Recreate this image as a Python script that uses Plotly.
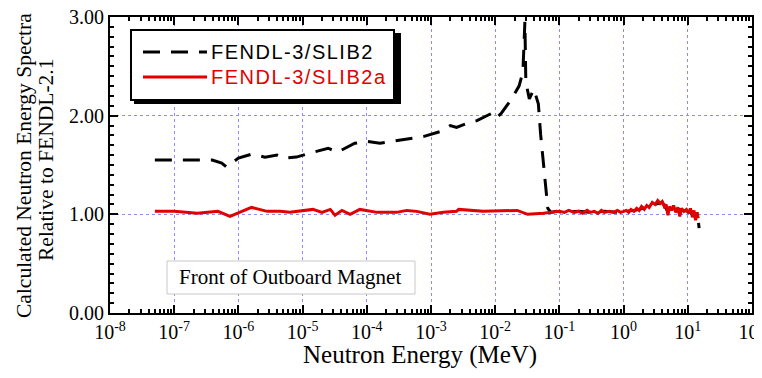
import plotly.graph_objects as go

# ---------------- data ----------------
slib2_energy = [5e-8, 1e-7, 2e-7, 3.9e-7, 5.5e-7, 6.5e-7, 1e-6, 1.6e-6, 2.6e-6, 4e-6,
                5e-6, 8e-6, 1.3e-5, 2.5e-5, 3.5e-5, 6.5e-5, 1e-4, 1.6e-4, 2.5e-4, 7.8e-4,
                1.4e-3, 2.0e-3, 2.5e-3, 3.6e-3, 5.2e-3, 8.6e-3, 1.0e-2, 1.23e-2, 1.8e-2, 2.35e-2,
                2.7e-2, 2.9e-2, 3.0e-2, 3.4e-2, 4.0e-2, 4.7e-2, 5.1e-2, 5.8e-2, 6.6e-2, 7.4e-2,
                0.09, 0.12, 0.2, 0.3, 0.5, 0.8, 1.0, 1.5, 2.0, 3.0,
                4.0, 5.0, 7.0, 10.0, 12.0, 13.5, 14.5, 15.0]
slib2_ratio = [1.55, 1.55, 1.55, 1.55, 1.52, 1.48, 1.57, 1.61, 1.58, 1.60,
               1.57, 1.58, 1.62, 1.67, 1.63, 1.72, 1.74, 1.72, 1.74, 1.79,
               1.84, 1.90, 1.88, 1.92, 1.95, 2.02, 1.97, 2.02, 2.17, 2.30,
               2.44, 2.95, 2.34, 2.17, 2.27, 2.12, 1.81, 1.47, 1.06, 1.02,
               1.03, 1.02, 1.03, 1.02, 1.03, 1.02, 1.03, 1.04, 1.06, 1.10,
               1.12, 1.02, 1.05, 1.03, 1.00, 0.98, 0.95, 0.86]

slib2a_energy = [5e-8, 1e-7, 2.3e-7, 4.8e-7, 7.4e-7, 1.6e-6, 2.8e-6, 4.5e-6, 6.3e-6, 9.1e-6,
                 1.45e-5, 2.0e-5, 2.7e-5, 3.2e-5, 4.1e-5, 5.5e-5, 7.8e-5, 1.45e-4, 2.9e-4, 4.2e-4,
                 6.0e-4, 9.6e-4, 1.55e-3, 2.5e-3, 2.7e-3, 6.5e-3, 2.2e-2, 3.2e-2, 5.6e-2, 0.1,
                 0.12, 0.14, 0.17, 0.2, 0.23, 0.27, 0.3, 0.35, 0.4, 0.45,
                 0.5, 0.6, 0.7, 0.8, 0.9, 1.0, 1.1, 1.2, 1.3, 1.45,
                 1.6, 1.75, 1.9, 2.1, 2.3, 2.5, 2.8, 3.1, 3.4, 3.7,
                 4.0, 4.3, 4.6, 4.9, 5.2, 5.6, 6.0, 6.5, 7.0, 7.5,
                 8.0, 8.7, 9.5, 10.3, 11.0, 11.8, 12.5, 13.2, 14.0, 14.5]
slib2a_ratio = [1.03, 1.03, 1.01, 1.03, 0.98, 1.07, 1.03, 1.03, 1.02, 1.03,
                1.05, 1.02, 1.05, 0.99, 1.04, 1.00, 1.05, 1.02, 1.02, 1.04,
                1.03, 1.00, 1.02, 1.03, 1.05, 1.03, 1.04, 1.00, 1.01, 1.03,
                1.02, 1.04, 1.02, 1.03, 1.01, 1.04, 1.02, 1.03, 1.01, 1.04,
                1.02, 1.03, 1.02, 1.04, 1.02, 1.03, 1.04, 1.02, 1.05, 1.03,
                1.06, 1.04, 1.08, 1.05, 1.09, 1.07, 1.12, 1.10, 1.14, 1.11,
                1.13, 1.08, 1.10, 0.99, 1.08, 1.04, 1.09, 1.02, 1.07, 0.98,
                1.06, 1.03, 1.05, 1.01, 1.06, 0.97, 1.04, 0.94, 1.02, 0.96]

series_names = ["FENDL-3/SLIB2", "FENDL-3/SLIB2a"]
x_tick_vals = [1e-8, 1e-7, 1e-6, 1e-5, 1e-4, 1e-3, 1e-2, 1e-1, 1e0, 1e1, 1e2]
x_tick_text = ["10<sup>-8</sup>", "10<sup>-7</sup>", "10<sup>-6</sup>", "10<sup>-5</sup>",
               "10<sup>-4</sup>", "10<sup>-3</sup>", "10<sup>-2</sup>", "10<sup>-1</sup>",
               "10<sup>0</sup>", "10<sup>1</sup>", "10<sup>2</sup>"]
y_tick_vals = [0, 1, 2, 3]
y_tick_text = ["0.00", "1.00", "2.00", "3.00"]
x_title = "Neutron Energy (MeV)"
y_title_lines = ["Calculated Neutron Energy Spectra", "Relative to FENDL-2.1"]
note_text = "Front of Outboard Magnet"

# ---------------- layout helpers ----------------
# the page body has an 8px margin, so the figure is made 8px smaller and
# everything is placed in page pixels minus that offset
OFF = 8
W, H = 762 - OFF, 378 - OFF
L, R, T, B = 110, 752, 17, 313   # plot area in page pixels


def px(x):
    return (x - L) / (R - L)


def py(y):
    return (B - y) / (B - T)


BLACK = "#000000"
RED = "#e00000"
GRID = "#8c8cff"
SERIF = "Liberation Serif"
SANS = "Liberation Sans"
DASH = "17px,11px"

fig = go.Figure()
fig.add_trace(go.Scatter(x=slib2_energy, y=slib2_ratio, mode="lines", name=series_names[0],
                         line=dict(color=BLACK, width=3, dash=DASH), showlegend=False))
fig.add_trace(go.Scatter(x=slib2a_energy, y=slib2a_ratio, mode="lines", name=series_names[1],
                         line=dict(color=RED, width=3), showlegend=False))

minor_x = [m * 10.0 ** e for e in range(-8, 2) for m in range(2, 10)]

fig.update_xaxes(type="log", range=[-8, 2], automargin=False, ticklabeloverflow="allow",
                 showline=True, linecolor=BLACK, linewidth=2,
                 mirror="allticks", ticks="inside", ticklen=8, tickwidth=1.5, tickcolor=BLACK,
                 tickvals=x_tick_vals, ticktext=x_tick_text,
                 tickfont=dict(family=SERIF, size=20, color=BLACK),
                 showgrid=True, gridcolor=GRID, gridwidth=1, griddash="dot", zeroline=False,
                 minor=dict(tickvals=minor_x, ticks="inside", ticklen=4, tickwidth=1.5,
                            tickcolor=BLACK, showgrid=False))
fig.update_yaxes(range=[0, 3], automargin=False, ticklabeloverflow="allow",
                 showline=True, linecolor=BLACK, linewidth=2,
                 mirror="allticks", ticks="inside", ticklen=8, tickwidth=1.5, tickcolor=BLACK,
                 tickvals=y_tick_vals, ticktext=y_tick_text,
                 tickfont=dict(family=SERIF, size=20, color=BLACK),
                 showgrid=True, gridcolor=GRID, gridwidth=1, griddash="dot", zeroline=False,
                 minor=dict(dtick=0.1, ticks="inside", ticklen=4, tickwidth=1.5,
                            tickcolor=BLACK, showgrid=False))

shapes = [
    # legend shadow and box
    dict(type="rect", xref="paper", yref="paper", x0=px(134), x1=px(401), y0=py(104), y1=py(33),
         fillcolor=BLACK, line=dict(width=0), layer="above"),
    dict(type="rect", xref="paper", yref="paper", x0=px(131), x1=px(394), y0=py(100), y1=py(30),
         fillcolor="white", line=dict(color=BLACK, width=2), layer="above"),
    dict(type="line", xref="paper", yref="paper", x0=px(143), x1=px(207), y0=py(52), y1=py(52),
         line=dict(color=BLACK, width=3, dash=DASH), layer="above"),
    dict(type="line", xref="paper", yref="paper", x0=px(143), x1=px(207), y0=py(77), y1=py(77),
         line=dict(color=RED, width=3), layer="above"),
    # note box
    dict(type="rect", xref="paper", yref="paper", x0=px(167), x1=px(415), y0=py(294), y1=py(261),
         fillcolor="white", line=dict(color="#c8c8c8", width=1), layer="above"),
]


def spaced(s):
    return '<span style="letter-spacing:1.5px">' + s + '</span>'


annotations = [
    dict(text=spaced(series_names[0]), x=px(209), y=py(52), xref="paper", yref="paper",
         xanchor="left", yanchor="middle", showarrow=False,
         font=dict(family=SANS, size=20, color=BLACK)),
    dict(text=spaced(series_names[1]), x=px(209), y=py(77), xref="paper", yref="paper",
         xanchor="left", yanchor="middle", showarrow=False,
         font=dict(family=SANS, size=20, color=RED)),
    dict(text=note_text, x=px(290), y=py(277), xref="paper", yref="paper",
         xanchor="center", yanchor="middle", showarrow=False,
         font=dict(family=SERIF, size=21, color=BLACK)),
    dict(text=x_title, x=px(420), y=py(355), xref="paper", yref="paper",
         xanchor="center", yanchor="middle", showarrow=False,
         font=dict(family=SERIF, size=25, color=BLACK)),
    dict(text=y_title_lines[0], x=px(24), y=py(166), xref="paper", yref="paper",
         xanchor="center", yanchor="middle", showarrow=False, textangle=-90,
         font=dict(family=SERIF, size=21.5, color=BLACK)),
    dict(text=y_title_lines[1], x=px(46), y=py(160), xref="paper", yref="paper",
         xanchor="center", yanchor="middle", showarrow=False, textangle=-90,
         font=dict(family=SERIF, size=21.5, color=BLACK)),
]

fig.update_layout(width=W, height=H,
                  margin=dict(l=L - OFF, r=762 - R, t=T - OFF, b=378 - B),
                  paper_bgcolor="white", plot_bgcolor="white", showlegend=False,
                  shapes=shapes, annotations=annotations)

fig.write_html("out.html")
